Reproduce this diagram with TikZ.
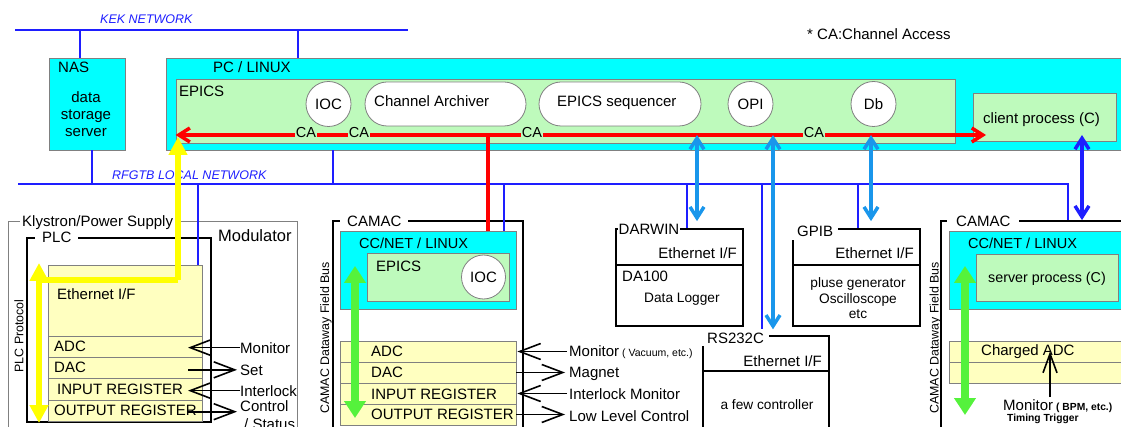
\documentclass[tikz,border=0pt]{standalone}
\usepackage{fontspec}
\setmainfont{Liberation Sans}
\usetikzlibrary{arrows.meta,fit}
\definecolor{cyanbox}{RGB}{0,255,255}
\definecolor{epicsg}{RGB}{190,250,188}
\definecolor{regy}{RGB}{255,255,192}
\definecolor{netblue}{RGB}{30,30,255}
\definecolor{skyarr}{RGB}{25,150,235}
\definecolor{grnarr}{RGB}{85,242,60}
\definecolor{bordergray}{RGB}{128,128,128}
\definecolor{yarr}{RGB}{255,255,0}
\begin{document}
\begin{tikzpicture}[x=1pt,y=-1pt,font=\fontsize{15}{18}\selectfont,
 cybox/.style={draw=bordergray, fill=cyanbox, line width=0.8pt, inner sep=0pt},
 gbox/.style={draw=bordergray, fill=epicsg, line width=0.8pt, inner sep=0pt},
 ybox/.style={draw=bordergray, fill=regy, line width=0.8pt, inner sep=0pt},
 outl/.style={draw=black, line width=1.7pt, inner sep=0pt},
 klys/.style={draw=bordergray, line width=0.9pt, inner sep=0pt},
 circ/.style={circle, draw=bordergray, fill=white, line width=0.8pt, minimum size=45pt, inner sep=0pt},
 oval/.style={draw=bordergray, fill=white, rounded corners=22pt, line width=0.8pt, inner sep=0pt},
 txt/.style={anchor=base west, inner sep=0pt},
 ctxt/.style={anchor=base, inner sep=0pt},
 rtxt/.style={anchor=base east, inner sep=0pt},
 lab/.style={anchor=base west, fill=white, inner ysep=3pt},
 mid/.style={font=\fontsize{13.7}{16}\selectfont},
 small/.style={font=\fontsize{10.3}{12}\selectfont\bfseries},
 rot/.style={rotate=90, inner sep=0pt, font=\fontsize{12.4}{14}\selectfont},
 net/.style={draw=netblue, line width=1.5pt},
 netlbl/.style={anchor=base west, inner sep=0pt, text=netblue, font=\fontsize{12.5}{14}\selectfont\itshape},
 caline/.style={draw=red, line width=3.5pt, {Straight Barb[length=11pt,width=14pt]}-{Straight Barb[length=11pt,width=14pt]}},
 redv/.style={draw=red, line width=3.5pt},
 calbl/.style={anchor=base, fill=epicsg, inner xsep=1pt, inner ysep=1pt, font=\fontsize{14.5}{16}\selectfont},
 skyline/.style={draw=skyarr, line width=3.5pt, {Straight Barb[length=11pt,width=14pt]}-{Straight Barb[length=11pt,width=14pt]}},
 dbline/.style={draw=netblue, line width=3.5pt, {Straight Barb[length=11pt,width=14pt]}-{Straight Barb[length=11pt,width=14pt]}},
 yline/.style={draw=yarr, line width=6pt},
 yarrow/.style={draw=yarr, line width=6pt, -{Triangle[length=18pt,width=18pt]}},
 yarrow2/.style={draw=yarr, line width=6pt, {Triangle[length=18pt,width=18pt]}-{Triangle[length=18pt,width=18pt]}},
 garrow/.style={draw=grnarr, line width=7.5pt, {Triangle[length=17pt,width=21pt]}-{Triangle[length=17pt,width=21pt]}},
 barbk/.style={draw=black, line width=1.6pt, -{Straight Barb[length=21pt,width=16pt]}}
]
\useasboundingbox (0,0) rectangle (1121,427);
\clip (0,0) rectangle (1121,427);

% ---------------- top: NAS and PC ----------------
\node[cybox, fit={(49,58)(125,150)}] (nas) {};
\node[cybox, fit={(166,58)(1140,150)}] (pc) {};
\node[gbox, fit={(176,79)(955,143)}] (epics1) {};
\node[gbox, fit={(973,93)(1116,141)}] (client) {};
\node[circ] (ioc1) at (328.5,104) {IOC};
\node[oval, fit={(365,82)(526,126)}] (archiver) {};
\node[oval, fit={(539,82)(701,126)}] (seqr) {};
\node[circ] (opi) at (750.5,104) {OPI};
\node[circ] (db) at (873.5,104) {Db};

\node[txt] (naslbl) at (58,73) {NAS};
\node[ctxt] (nas1) at (86,103) {data};
\node[ctxt] (nas2) at (86,120) {storage};
\node[ctxt] (nas3) at (86,137) {server};
\node[txt] (pclbl) at (213,73) {PC / LINUX};
\node[txt] (ep1lbl) at (179,97) {EPICS};
\node[txt] (archlbl) at (374,107) {Channel Archiver};
\node[txt] (seqlbl) at (557,107) {EPICS sequencer};
\node[txt] (clientlbl) at (983,124) {client process (C)};
\node[txt] (note) at (807,40) {* CA:Channel Access};

% ---------------- Klystron / PLC ----------------
\node[klys, fit={(8,221)(297,440)}] (klystron) {};
\node[outl, fit={(27,238)(211,422)}] (plc) {};
\node[ybox, fit={(48,265)(202,336)}] (plceth) {};
\node[ybox, fit={(48,336)(202,357)}] (adc1) {};
\node[ybox, fit={(48,357)(202,378)}] (dac1) {};
\node[ybox, fit={(48,378)(202,400)}] (inr1) {};
\node[ybox, fit={(48,400)(202,421)}] (outr1) {};
\node[lab, inner xsep=2pt] (klyslbl) at (20,227) {Klystron/Power Supply};
\node[lab, inner xsep=7pt] (plclbl) at (35,243) {PLC};
\node[txt, font=\fontsize{16.5}{18}\selectfont] (modlbl) at (218,242) {Modulator};
\node[txt] (eth1) at (57,300) {Ethernet I/F};
\node[txt] (adc1t) at (54,351.7) {ADC};
\node[txt] (dac1t) at (54,372.7) {DAC};
\node[txt] (inr1t) at (57,394) {INPUT REGISTER};
\node[txt] (outr1t) at (54,415) {OUTPUT REGISTER};
\node[rot] (plcprot) at (19,336) {PLC Protocol};

% ---------------- middle CAMAC ----------------
\node[outl, fit={(333,221)(523,440)}] (camacM) {};
\node[cybox, fit={(340,231)(516,309)}] (ccnet1) {};
\node[gbox, fit={(367,253)(509,301)}] (epics2) {};
\node[circ, minimum size=44pt] (ioc2) at (483.5,277) {IOC};
\node[ybox, fit={(340,341)(516,362)}] (adc2) {};
\node[ybox, fit={(340,362)(516,383)}] (dac2) {};
\node[ybox, fit={(340,383)(516,404)}] (inr2) {};
\node[ybox, fit={(340,404)(516,425)}] (outr2) {};
\node[lab, inner xsep=7pt] (camMlbl) at (340,227) {CAMAC};
\node[txt, font=\fontsize{14.5}{16}\selectfont] (cc1lbl) at (359,249) {CC/NET / LINUX};
\node[txt] (ep2lbl) at (376,271.7) {EPICS};
\node[txt] (adc2t) at (371,356.7) {ADC};
\node[txt] (dac2t) at (371,377.3) {DAC};
\node[txt] (inr2t) at (371,399) {INPUT REGISTER};
\node[txt] (outr2t) at (371,419.3) {OUTPUT REGISTER};
\node[rot] (cdfb1) at (326,338) {CAMAC Dataway Field Bus};

\node[txt] (mmon) at (569,356.7) {Monitor};
\node[txt, small, font=\fontsize{10.5}{12}\selectfont] (mvac) at (622,356) {( Vacuum, etc.)};
\node[txt] (mmag) at (569,377.7) {Magnet};
\node[txt] (mint) at (569,399) {Interlock Monitor};
\node[txt] (mllc) at (569,421) {Low Level Control};

% ---------------- DARWIN / GPIB / RS232C ----------------
\node[outl, fit={(616,229)(743,326)}] (darwin) {};
\node[outl, fit={(793,229)(920,326)}] (gpib) {};
\node[outl, fit={(703,336)(829,440)}] (rs) {};
\coordinate (dvy) at (0,265);
\coordinate (rvy) at (0,371);
\draw[black, line width=1.7pt] (darwin.west |- dvy) -- (darwin.east |- dvy);
\draw[black, line width=1.7pt] (gpib.west |- dvy) -- (gpib.east |- dvy);
\draw[black, line width=1.7pt] (rs.west |- rvy) -- (rs.east |- rvy);
\node[lab, inner xsep=1pt] (darwinlbl) at (617.5,235) {DARWIN};
\node[lab, inner xsep=5pt] (gpiblbl) at (792,237) {GPIB};
\node[lab, inner xsep=5pt] (rslbl) at (702,343) {RS232C};
\node[rtxt] (eth2) at (737,259) {Ethernet I/F};
\node[rtxt] (eth3) at (914,259) {Ethernet I/F};
\node[rtxt] (eth4) at (822,366) {Ethernet I/F};
\node[txt] (da100) at (622,281.7) {DA100};
\node[txt, mid] (dlog) at (644,303) {Data Logger};
\node[ctxt, mid] (pg1) at (858,288) {pluse generator};
\node[ctxt, mid] (pg2) at (858,304) {Oscilloscope};
\node[ctxt, mid] (pg3) at (858,319) {etc};
\node[ctxt, mid] (fewc) at (767,409) {a few controller};

% ---------------- right CAMAC ----------------
\node[outl, fit={(941,221)(1140,440)}] (camacR) {};
\node[cybox, fit={(949,231)(1140,309)}] (ccnetR) {};
\node[gbox, fit={(976,254)(1118,301)}] (server) {};
\node[ybox, fit={(949,341)(1140,362)}] (cadc) {};
\node[ybox, fit={(949,362)(1140,383)}] (cadc2) {};
\node[lab, inner xsep=9pt] (camRlbl) at (947,227) {CAMAC};
\node[txt, font=\fontsize{14.5}{16}\selectfont] (ccRlbl) at (968,249) {CC/NET / LINUX};
\node[ctxt, font=\fontsize{14.3}{16}\selectfont] (serverlbl) at (1047,283) {server process (C)};
\node[txt] (cadct) at (981,355.7) {Charged ADC};
\node[rot] (cdfb2) at (935.5,338) {CAMAC Dataway Field Bus};
\node[txt] (rmon) at (1003,410) {Monitor};
\node[txt, small] (rbpm) at (1056,410) {( BPM, etc.)};
\node[txt, small] (rtim) at (1007,421.5) {Timing Trigger};

% ---------------- networks ----------------
\coordinate (kekA) at (15,30);
\coordinate (kekB) at (408,30);
\draw[net] (kekA) -- (kekB);
\node[netlbl] (keklbl) at (100,24) {KEK NETWORK};
\coordinate (k1) at (80,30);
\coordinate (k2) at (298,30);
\draw[net] (k1) -- (k1 |- nas.north);
\draw[net] (k2) -- (k2 |- pc.north);

\coordinate (rfA) at (18,184);
\coordinate (rfB) at (1068,184);
\draw[net] (rfA) -- (rfB) -- (rfB |- camacR.north);
\node[netlbl] (rflbl) at (112,180) {RFGTB LOCAL NETWORK};
\coordinate (r1) at (92,184);
\coordinate (r2) at (333,184);
\coordinate (r3) at (198,184);
\coordinate (r4) at (504,184);
\coordinate (r5) at (687,184);
\coordinate (r6) at (762,184);
\coordinate (r7) at (858,184);
\draw[net] (r1) -- (r1 |- nas.south);
\draw[net] (r2) -- (r2 |- pc.south);
\draw[net] (r3) -- (r3 |- plceth.north);
\draw[net] (r4) -- (r4 |- ccnet1.north);
\draw[net] (r5) -- (r5 |- darwin.north);
\draw[net] (r6) -- (r6 |- rslbl.north);
\draw[net] (r7) -- (r7 |- gpib.north);

% ---------------- channel access ----------------
\coordinate (rv) at (488,135);
\draw[redv] (rv) -- (rv |- ccnet1.north);
\coordinate (caR) at (986,135);
\draw[caline] (epics1.west |- caR) -- (caR);
\node[calbl] (ca1) at (306,138) {CA};
\node[calbl] (ca2) at (359,138) {CA};
\node[calbl] (ca3) at (532,138) {CA};
\node[calbl] (ca4) at (814,138) {CA};

\coordinate (sb1) at (697,135);
\coordinate (sb2) at (773,135);
\coordinate (sb3) at (871,135);
\draw[skyline, shorten >=7pt] (sb1) -- (sb1 |- darwin.north);
\draw[skyline] (sb2) -- (sb2 |- rslbl.north);
\draw[skyline, shorten >=7pt] (sb3) -- (sb3 |- gpib.north);
\coordinate (dbt) at (1082,135);
\draw[dbline] (dbt) -- (dbt |- camacR.north);

% ---------------- yellow PLC protocol ----------------
\coordinate (ybend) at (178,280);
\coordinate (ytop) at (178,137);
\coordinate (ylt) at (39,263);
\coordinate (ylb) at (39,423);
\draw[yline] (ybend) -- (ybend -| ylt);
\draw[yarrow] (ybend) -- (ytop);
\draw[yarrow2] (ylt) -- (ylb);

% ---------------- green dataway arrows ----------------
\coordinate (g1t) at (355,266);
\coordinate (g1b) at (355,418);
\coordinate (g2t) at (965,266);
\coordinate (g2b) at (965,415);
\draw[garrow] (g1t) -- (g1b);
\draw[garrow] (g2t) -- (g2b);

% ---------------- signal arrows ----------------
\coordinate (ptip) at (188,0);
\node[txt] (pmon) at (240,353) {Monitor};
\node[txt] (pset) at (240,375) {Set};
\node[txt] (pint) at (240,396) {Interlock};
\node[txt] (pctl) at (240,411.7) {Control};
\node[txt] (psta) at (244,429.3) {/ Status};
\draw[barbk] (pmon.west) -- (pmon.west -| ptip);
\draw[barbk] (pset.west -| ptip) -- ([xshift=-3pt]pset.west);
\draw[barbk] (pint.west) -- (pint.west -| ptip);
\draw[barbk] (pctl.base west -| ptip) -- ([xshift=-3pt]pctl.base west);

\draw[barbk, shorten >=1pt] ([xshift=-2pt]mmon.west |- adc2.east) -- (adc2.east);
\draw[barbk, shorten >=4pt] (dac2.east) -- (mmag.west |- dac2.east);
\draw[barbk, shorten >=1pt] ([xshift=-2pt]mint.west |- inr2.east) -- (inr2.east);
\draw[barbk, shorten >=4pt] (outr2.east) -- (mllc.west |- outr2.east);

\coordinate (mrA) at (1050,397);
\draw[barbk, -{Straight Barb[length=19pt,width=14pt]}] (mrA) -- (mrA |- cadc.center);
\end{tikzpicture}
\end{document}
